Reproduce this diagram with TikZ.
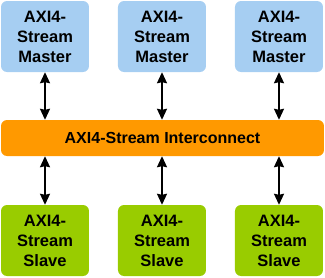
\documentclass[tikz,border=0pt]{standalone}
\usepackage{fontspec}
\setmainfont{Liberation Sans}
\usepackage{tikz}
\usetikzlibrary{arrows.meta, positioning}
\definecolor{masterblue}{RGB}{166,206,242}
\definecolor{icorange}{RGB}{255,153,0}
\definecolor{slavegreen}{RGB}{153,204,0}
\tikzset{
	axibox/.style={rounded corners=6pt, minimum width=88pt, minimum height=71pt, inner sep=0pt, align=center, font=\fontsize{16.5}{20}\selectfont\bfseries, fill=#1},
	icbox/.style={rounded corners=6pt, minimum width=323pt, minimum height=36pt, inner sep=0pt, font=\fontsize{16}{20}\selectfont\bfseries, fill=icorange},
	busarr/.style={{Stealth[length=11pt,width=10pt,inset=1pt]}-{Stealth[length=11pt,width=10pt,inset=1pt]}, line width=1.8pt},
}
\begin{document}
\begin{tikzpicture}[x=1pt,y=1pt]
	\useasboundingbox (0,0) rectangle (325,277);
	\node[icbox] (ic) at (162.5,139) {AXI4-Stream Interconnect};
	\foreach \i/\x in {1/45,2/162,3/279} {
		\node[axibox=masterblue] (m\i) at (\x,240.5) {AXI4-\\Stream\\Master};
		\node[axibox=slavegreen] (s\i) at (\x,36.5) {AXI4-\\Stream\\Slave};
		\draw[busarr] (m\i.south) -- (m\i.south |- ic.north);
		\draw[busarr] (s\i.north) -- (s\i.north |- ic.south);
	}
\end{tikzpicture}
\end{document}
